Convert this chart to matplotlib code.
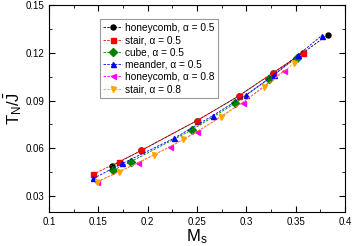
import matplotlib
matplotlib.use("Agg")
import matplotlib.pyplot as plt
from matplotlib.ticker import MultipleLocator

plt.rcParams['font.family'] = ['Liberation Sans', 'DejaVu Sans']
plt.rcParams['mathtext.fontset'] = 'custom'
plt.rcParams['mathtext.rm'] = 'Liberation Sans'
plt.rcParams['mathtext.it'] = 'Liberation Sans'

# honeycomb, alpha = 0.5
hc5_x = [0.1636, 0.1936, 0.2497, 0.2922, 0.3274, 0.3578, 0.3824]
hc5_y = [0.0490, 0.0587, 0.0773, 0.0928, 0.1075, 0.1200, 0.1312]
# stair, alpha = 0.5
st5_x = [0.1443, 0.1710, 0.1936, 0.2497, 0.2922, 0.3274, 0.3578]
st5_y = [0.0436, 0.0516, 0.0587, 0.0773, 0.0928, 0.1075, 0.1200]
# cube, alpha = 0.5
cu5_x = [0.1652, 0.1828, 0.2450, 0.2885, 0.3226, 0.3510]
cu5_y = [0.0463, 0.0516, 0.0716, 0.0882, 0.1034, 0.1169]
# meander, alpha = 0.5
me5_x = [0.1449, 0.1743, 0.2270, 0.2660, 0.2997, 0.3284, 0.3527, 0.3764]
me5_y = [0.0411, 0.0505, 0.0664, 0.0805, 0.0935, 0.1063, 0.1186, 0.1307]
# honeycomb, alpha = 0.8
hc8_x = [0.1490, 0.1902, 0.2226, 0.2497, 0.2963, 0.3382]
hc8_y = [0.0390, 0.0509, 0.0610, 0.0702, 0.0887, 0.1085]
# stair, alpha = 0.8
st8_x = [0.1490, 0.1710, 0.2067, 0.2360, 0.2740, 0.3179, 0.3483]
st8_y = [0.0390, 0.0453, 0.0560, 0.0656, 0.0794, 0.0983, 0.1134]

series = [
    (hc5_x, hc5_y, 'black', 'o', 'honeycomb, α = 0.5'),
    (st5_x, st5_y, 'red', 's', 'stair, α = 0.5'),
    (cu5_x, cu5_y, 'green', 'D', 'cube, α = 0.5'),
    (me5_x, me5_y, 'blue', '^', 'meander, α = 0.5'),
    (hc8_x, hc8_y, 'magenta', '<', 'honeycomb, α = 0.8'),
    (st8_x, st8_y, 'orange', 'v', 'stair, α = 0.8'),
]

fig = plt.figure(figsize=(3.53, 2.46), dpi=100)
ax = fig.add_axes([0.139, 0.138, 0.838, 0.842])

for x, y, c, m, lab in series:
    ax.plot(x, y, color=c, marker=m, markersize=3.6, linestyle='--',
            linewidth=0.6, dashes=(3, 1.5), label=lab)

ax.set_xlim(0.1, 0.4)
ax.set_ylim(0.02, 0.15)
ax.xaxis.set_minor_locator(MultipleLocator(0.025))
ax.yaxis.set_minor_locator(MultipleLocator(0.015))
ax.set_xticks([0.1, 0.15, 0.2, 0.25, 0.3, 0.35, 0.4])
ax.set_xticklabels(['0.1', '0.15', '0.2', '0.25', '0.3', '0.35', '0.4'])
ax.set_yticks([0.03, 0.06, 0.09, 0.12, 0.15])
ax.set_yticklabels(['0.03', '0.06', '0.09', '0.12', '0.15'])
ax.tick_params(which='both', direction='in', top=True, right=True, labelsize=7)
ax.tick_params(which='major', length=4)
ax.tick_params(which='minor', length=2)

ax.set_xlabel('M$_\\mathrm{s}$', fontsize=12, labelpad=0)
ax.set_ylabel('T$_\\mathrm{N}$/$\\bar{\\mathrm{J}}$', fontsize=12, labelpad=1)

leg = ax.legend(loc='upper left', bbox_to_anchor=(0.172, 0.93), fontsize=7.3,
                frameon=True, fancybox=False, handlelength=1.8,
                handletextpad=0.3, labelspacing=0.22, borderpad=0.35,
                borderaxespad=0)
leg.get_frame().set_edgecolor('gray')
leg.get_frame().set_linewidth(0.8)

fig.savefig('out.png', dpi=100)
